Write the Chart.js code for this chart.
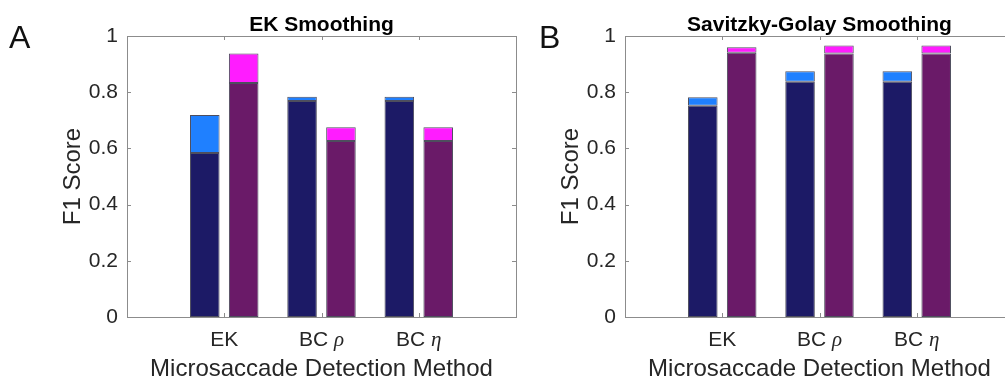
<!DOCTYPE html>
<html>
<head>
<meta charset="utf-8">
<script src="https://cdn.jsdelivr.net/npm/chart.js@4.4.1/dist/chart.umd.min.js"></script>
<style>
  html, body { margin: 0; padding: 0; background: #fff; overflow: hidden; }
  #wrap { position: relative; width: 1005px; height: 378px; overflow: hidden; }
  .panel { position: absolute; top: 0; width: 530px; height: 378px; }
  .letter { position: absolute; top: 19px; font: 32px "Liberation Sans", Arial, sans-serif; color: #111; }
</style>
</head>
<body>
<div id="wrap">
  <div class="panel" style="left:0"><canvas id="chartA" width="530" height="378"></canvas></div>
  <div class="panel" style="left:498px"><canvas id="chartB" width="530" height="378"></canvas></div>
  <div class="letter" style="left:9px">A</div>
  <div class="letter" style="left:539px">B</div>
</div>
<script>
// categories (blank slots at both ends, like the MATLAB x-limits 0..4)
const methods = ["", "EK", "BC \u03c1", "BC \u03b7", ""];

// panel A: EK smoothing
const ekBase1 = [null, 0.584, 0.769, 0.769, null];
const ekTop1  = [null, 0.719, 0.784, 0.784, null];
const ekBase2 = [null, 0.833, 0.626, 0.626, null];
const ekTop2  = [null, 0.938, 0.675, 0.675, null];

// panel B: Savitzky-Golay smoothing
const sgBase1 = [null, 0.752, 0.837, 0.837, null];
const sgTop1  = [null, 0.782, 0.875, 0.875, null];
const sgBase2 = [null, 0.940, 0.938, 0.938, null];
const sgTop2  = [null, 0.960, 0.966, 0.966, null];

const yTicks = [0, 0.2, 0.4, 0.6, 0.8, 1];

const navy = "#1c1a66", blue = "#1f80ff", plum = "#6a1a68", magenta = "#ff1cff";
const FONT = "'Liberation Sans', Arial, sans-serif";
const GREEK = "italic 21px 'Liberation Serif', 'DejaVu Serif', serif";

// box around the axes with inward tick marks, category labels, panel title
const matlabBox = {
  id: "matlabBox",
  afterDraw(chart, args, opts) {
    const { ctx, chartArea: a, scales } = chart;
    ctx.save();
    ctx.strokeStyle = "#8c8c8c";
    ctx.lineWidth = 1;
    ctx.strokeRect(Math.round(a.left) + 0.5, Math.round(a.top) + 0.5,
                   Math.round(a.right - a.left), Math.round(a.bottom - a.top));
    ctx.beginPath();
    yTicks.forEach(v => {
      const y = Math.round(scales.y.getPixelForValue(v)) + 0.5;
      ctx.moveTo(a.left, y); ctx.lineTo(a.left + 4, y);
      ctx.moveTo(a.right, y); ctx.lineTo(a.right - 4, y);
    });
    [1, 2, 3].forEach(i => {
      const x = Math.round(scales.x.getPixelForValue(i)) + 0.5;
      ctx.moveTo(x, a.bottom); ctx.lineTo(x, a.bottom - 4);
      ctx.moveTo(x, a.top); ctx.lineTo(x, a.top + 4);
    });
    ctx.stroke();

    // category labels: plain text with an italic greek symbol
    ctx.fillStyle = "#262626";
    ctx.textBaseline = "middle";
    ctx.textAlign = "left";
    methods.forEach((lab, i) => {
      if (!lab) return;
      const cx = scales.x.getPixelForValue(i);
      const y = a.bottom + 23;
      const g = /[\u0370-\u03ff]$/.test(lab) ? lab.slice(-1) : "";
      const head = g ? lab.slice(0, -1) : lab;
      ctx.font = "21px " + FONT;
      const wh = ctx.measureText(head).width;
      ctx.font = GREEK;
      const wg = g ? ctx.measureText(g).width : 0;
      const x = cx - (wh + wg) / 2;
      ctx.font = "21px " + FONT;
      ctx.fillText(head, x, y);
      if (g) { ctx.font = GREEK; ctx.fillText(g, x + wh, y); }
    });

    ctx.fillStyle = "#000";
    ctx.font = "bold 21px " + FONT;
    ctx.textAlign = "center";
    ctx.textBaseline = "alphabetic";
    ctx.fillText(opts.text, (a.left + a.right) / 2, a.top - 5);
    ctx.restore();
  }
};

function segments(base, top) {
  return base.map((b, i) => (b === null ? null : [b, top[i]]));
}

function makeChart(id, title, base1, top1, base2, top2) {
  const common = {
    categoryPercentage: 0.80,
    barPercentage: 0.76,
    borderWidth: 1,
    borderColor: "#4e4e5e",
    borderSkipped: false
  };
  return new Chart(document.getElementById(id), {
    type: "bar",
    data: {
      labels: methods,
      datasets: [
        { ...common, label: "base 1", data: base1, backgroundColor: navy, stack: "s1" },
        { ...common, label: "top 1", data: segments(base1, top1), backgroundColor: blue, stack: "s1" },
        { ...common, label: "base 2", data: base2, backgroundColor: plum, stack: "s2" },
        { ...common, label: "top 2", data: segments(base2, top2), backgroundColor: magenta, stack: "s2" }
      ]
    },
    options: {
      responsive: false,
      animation: false,
      layout: { padding: { top: 36, right: 14, left: 0, bottom: 0 } },
      plugins: {
        legend: { display: false },
        tooltip: { enabled: false },
        matlabBox: { text: title }
      },
      scales: {
        x: {
          offset: false,
          grid: { display: false, drawTicks: false },
          border: { display: false },
          ticks: { display: false },
          title: {
            display: true,
            text: "Microsaccade Detection Method",
            color: "#262626",
            font: { family: FONT, size: 24, lineHeight: 1 },
            padding: { top: 0, bottom: -3 }
          },
          afterFit: s => { s.height = 61; }
        },
        y: {
          stacked: false,
          min: 0,
          max: 1,
          grid: { display: false, drawTicks: false },
          border: { display: false },
          afterBuildTicks: s => { s.ticks = yTicks.map(v => ({ value: v })); },
          ticks: {
            color: "#262626",
            font: { family: FONT, size: 21 },
            padding: 9,
            callback: v => String(v)
          },
          title: {
            display: true,
            text: "F1 Score",
            color: "#262626",
            font: { family: FONT, size: 24, lineHeight: 1 },
            padding: { top: 61, bottom: 0 }
          },
          afterFit: s => { s.width = 127; }
        }
      }
    },
    plugins: [matlabBox]
  });
}

makeChart("chartA", "EK Smoothing", ekBase1, ekTop1, ekBase2, ekTop2);
makeChart("chartB", "Savitzky-Golay Smoothing", sgBase1, sgTop1, sgBase2, sgTop2);
</script>
</body>
</html>
